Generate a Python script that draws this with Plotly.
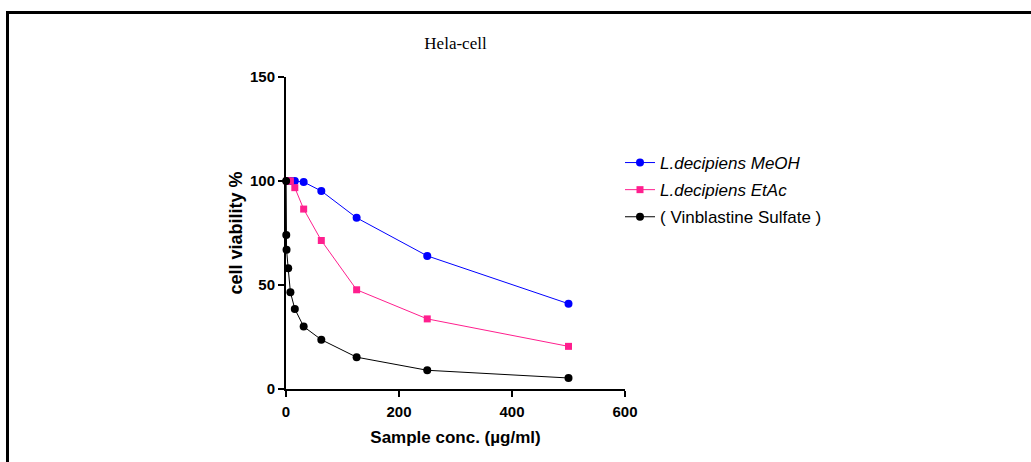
import plotly.graph_objects as go

# Data
meoh_x = [1.95, 3.9, 7.8, 15.6, 31.25, 62.5, 125, 250, 500]
meoh_y = [100, 100, 100, 100, 99.5, 95.2, 82.3, 64, 41]

etac_x = [1.95, 3.9, 7.8, 15.6, 31.25, 62.5, 125, 250, 500]
etac_y = [100, 100, 100, 96.8, 86.5, 71.4, 47.7, 33.7, 20.5]

vin_x = [0.24, 0.49, 0.98, 3.9, 7.8, 15.6, 31.25, 62.5, 125, 250, 500]
vin_y = [100, 74, 67, 58, 46.5, 38.5, 30, 23.7, 15.3, 9, 5.3]

names = ["<i>L.decipiens MeOH</i>", "<i>L.decipiens EtAc</i>", "( Vinblastine Sulfate )"]
x_ticks = [0, 200, 400, 600]
y_ticks = [0, 50, 100, 150]

W, H = 1031, 462
L, R, T, B = 286, 625, 77, 389  # plot area in pixels

def px_x(p):
    return (p - L) / (R - L)

def px_y(p):
    return (B - p) / (B - T)

fig = go.Figure()
fig.add_trace(go.Scatter(x=meoh_x, y=meoh_y, name=names[0], mode="lines+markers",
                         legendgroup="a",
                         line=dict(color="#0000FF", width=1),
                         marker=dict(symbol="circle", size=8, color="#0000FF"),
                         cliponaxis=False))
fig.add_trace(go.Scatter(x=etac_x, y=etac_y, name=names[1], mode="lines+markers",
                         legendgroup="b",
                         line=dict(color="#FF1F8E", width=1),
                         marker=dict(symbol="square", size=7, color="#FF1F8E"),
                         cliponaxis=False))
fig.add_trace(go.Scatter(x=vin_x, y=vin_y, name=names[2], mode="lines+markers",
                         legendgroup="c",
                         line=dict(color="#000000", width=1),
                         marker=dict(symbol="circle", size=8, color="#000000"),
                         cliponaxis=False))

axis_font = dict(family="Liberation Sans, Arial", size=15, color="black", weight="bold")

fig.update_layout(
    width=W, height=H,
    margin=dict(l=L, r=W - R, t=T, b=H - B, pad=0),
    paper_bgcolor="white", plot_bgcolor="white",
    title=dict(text="Hela-cell", x=0.5, xref="paper", y=1 - 43 / H, yref="container",
               xanchor="center", yanchor="middle",
               font=dict(family="Liberation Serif, Times New Roman", size=17, color="black")),
    xaxis=dict(range=[0, 600], tickvals=x_ticks, showgrid=False, zeroline=False,
               showline=True, linecolor="black", linewidth=2,
               ticks="outside", ticklen=6, tickwidth=2, tickcolor="black",
               tickfont=axis_font, ticklabelstandoff=2,
               title=dict(text="Sample conc. (µg/ml)",
                          font=dict(family="Liberation Sans, Arial", size=17, color="black", weight="bold"),
                          standoff=12)),
    yaxis=dict(range=[0, 150], tickvals=y_ticks, showgrid=False, zeroline=False,
               showline=True, linecolor="black", linewidth=2,
               ticks="outside", ticklen=6, tickwidth=2, tickcolor="black",
               tickfont=axis_font,
               title=dict(text="cell viability %",
                          font=dict(family="Liberation Sans, Arial", size=18, color="black", weight="bold"),
                          standoff=3)),
    legend=dict(x=px_x(620), y=px_y(145), xanchor="left", yanchor="top",
                font=dict(family="Liberation Sans, Arial", size=17, color="black"),
                bgcolor="rgba(0,0,0,0)", itemwidth=30, tracegroupgap=2),
    showlegend=True,
)

# outer frame (top and left lines)
fig.add_shape(type="line", xref="paper", yref="paper",
              x0=px_x(7.5), x1=px_x(1031), y0=px_y(12.5), y1=px_y(12.5),
              line=dict(color="black", width=3))
fig.add_shape(type="line", xref="paper", yref="paper",
              x0=px_x(7.5), x1=px_x(7.5), y0=px_y(11), y1=px_y(462),
              line=dict(color="black", width=3))

fig.write_html("out.html", config={"displayModeBar": False},
               post_script="document.body.style.margin='0';document.body.style.padding='0';")
